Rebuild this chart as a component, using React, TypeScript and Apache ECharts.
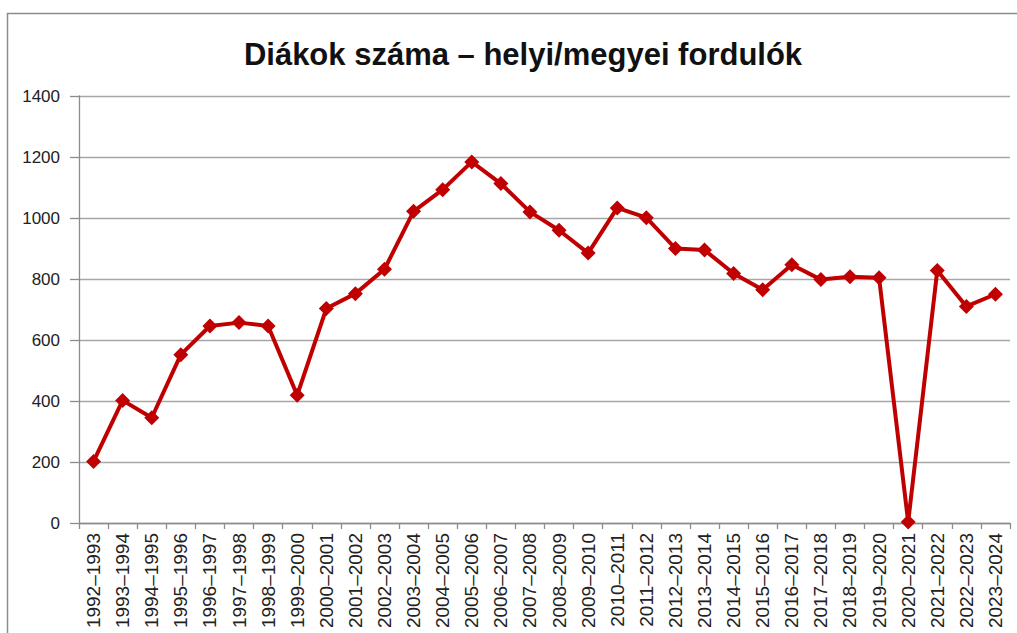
import React, { useEffect, useRef } from "react";
import * as echarts from "echarts";

const categories: string[] = [
  "1992–1993", "1993–1994", "1994–1995", "1995–1996", "1996–1997", "1997–1998",
  "1998–1999", "1999–2000", "2000–2001", "2001–2002", "2002–2003", "2003–2004",
  "2004–2005", "2005–2006", "2006–2007", "2007–2008", "2008–2009", "2009–2010",
  "2010–2011", "2011–2012", "2012–2013", "2013–2014", "2014–2015", "2015–2016",
  "2016–2017", "2017–2018", "2018–2019", "2019–2020", "2020–2021", "2021–2022",
  "2022–2023", "2023–2024",
];

const students: number[] = [
  202, 402, 345, 552, 646, 657, 646, 419, 703, 752, 832, 1022,
  1093, 1184, 1113, 1020, 960, 885, 1033, 1001, 900, 895, 818, 765,
  847, 798, 807, 804, 3, 828, 710, 750,
];

const yTicks = { min: 0, max: 1400, interval: 200 };
const titleText = "Diákok száma – helyi/megyei fordulók";

export default function App() {
  const ref = useRef<HTMLDivElement>(null);
  useEffect(() => {
    document.body.style.margin = "0";
    const chart = echarts.init(ref.current!, null, { renderer: "svg" });
    chart.setOption({
      animation: false,
      backgroundColor: "#ffffff",
      title: {
        text: titleText,
        top: 34,
        left: 518,
        textAlign: "center",
        textStyle: {
          fontFamily: "Liberation Sans",
          fontWeight: "bold",
          fontSize: 31,
          color: "#111111",
        },
      },
      graphic: [
        {
          type: "polyline",
          shape: { points: [[7.5, 633], [7.5, 13.5], [1017, 13.5]] },
          style: { stroke: "#8c8c8c", lineWidth: 1.5, fill: "none" },
          silent: true,
        },
      ],
      grid: { left: 79, right: 7, top: 96, bottom: 110, containLabel: false },
      xAxis: {
        type: "category",
        data: categories,
        boundaryGap: true,
        axisLine: { lineStyle: { color: "#8c8c8c", width: 1.3 } },
        axisTick: { show: true, length: 6, lineStyle: { color: "#8c8c8c", width: 1.3 } },
        axisLabel: {
          interval: 0,
          rotate: 90,
          margin: 10,
          fontFamily: "Liberation Sans",
          fontSize: 19,
          color: "#222222",
        },
      },
      yAxis: {
        type: "value",
        min: yTicks.min,
        max: yTicks.max,
        interval: yTicks.interval,
        axisLine: { show: true, lineStyle: { color: "#8c8c8c", width: 1.3 } },
        axisTick: { show: true, length: 9, lineStyle: { color: "#8c8c8c", width: 1.3 } },
        splitLine: { lineStyle: { color: "#a6a6a6", width: 1.3 } },
        axisLabel: {
          margin: 19,
          formatter: (v: number) => String(v),
          fontFamily: "Liberation Sans",
          fontSize: 17,
          color: "#222222",
        },
      },
      series: [
        {
          type: "line",
          data: students,
          symbol: "diamond",
          symbolSize: 15,
          lineStyle: { color: "#C00000", width: 4 },
          itemStyle: { color: "#C00000" },
        },
      ],
    });
    return () => chart.dispose();
  }, []);
  return <div ref={ref} style={{ width: 1017, height: 633 }} />;
}
